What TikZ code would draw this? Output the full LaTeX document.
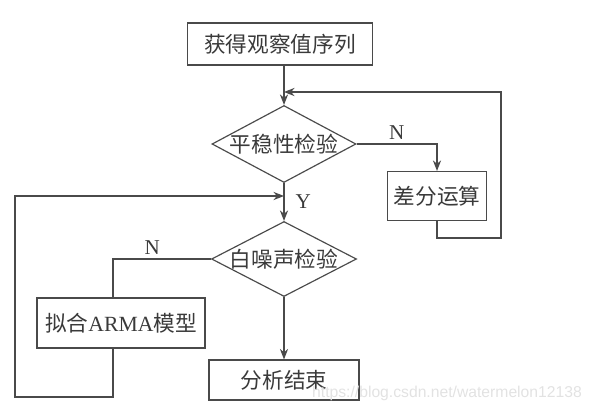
\documentclass[tikz,border=0pt]{standalone}
\usepackage{fontspec}
\usepackage{tikz}
\usetikzlibrary{shapes.geometric,arrows.meta}
\newfontfamily\cjk{Noto Sans CJK SC}
\newfontfamily\latin{Liberation Serif}
\newfontfamily\wmfont{Liberation Sans}
\definecolor{linegray}{HTML}{4A4A4A}
\definecolor{textgray}{HTML}{3A3A3A}
\definecolor{markgray}{HTML}{E2E2E2}

\begin{document}
\begin{tikzpicture}[x=0.03cm, y=-0.03cm,
    box/.style={draw=linegray, line width=1pt, rectangle, inner sep=0, text=textgray, font=\cjk\fontsize{18.5}{20}\selectfont},
    decision/.style={draw=linegray, line width=1pt, diamond, inner sep=0, text=textgray, font=\cjk\fontsize{18.5}{20}\selectfont},
    arr/.style={draw=linegray, line width=1pt, -{Stealth[length=9pt,width=7pt]}},
    line/.style={draw=linegray, line width=1pt},
    yn/.style={text=textgray, font=\latin\fontsize{18}{20}\selectfont}]

    \useasboundingbox (0,0) rectangle (593,412);

    \node[box, minimum width=5.55cm, minimum height=1.26cm] (obs) at (280,44) {获得观察值序列};
    \node[decision, minimum width=4.32cm, minimum height=2.31cm] (stat) at (284,144) {\makebox[0pt]{平稳性检验}};
    \node[box, minimum width=2.97cm, minimum height=1.47cm] (diff) at (437,196) {差分运算};
    \node[decision, minimum width=4.35cm, minimum height=2.25cm] (white) at (284,259) {\makebox[0pt]{白噪声检验}};
    \node[box, minimum width=5.04cm, minimum height=1.5cm] (arma) at (121,323) {拟合{\latin ARMA}模型};
    \node[box, minimum width=4.5cm, minimum height=1.2cm] (fin) at (284,380) {分析结束};

    % corners of the two loops
    \coordinate (rtop) at (501,92);
    \coordinate (rbot) at (501,238);
    \coordinate (ltop) at (15,196);
    \coordinate (lbot) at (15,397);

    \draw[arr] (obs.south -| stat.north) -- (stat.north);
    \draw[arr] (stat.east) -| (diff.north) node[yn, pos=0.25, above] {N};
    \draw[arr] (diff.south) |- (rbot) -- (rtop) -- (stat.north |- rtop);
    \draw[arr] (stat.south) -- (white.north) node[yn, midway, right=6pt] {Y};
    \draw[line] (white.west) -| ([xshift=-0.24cm]arma.north) node[yn, pos=0.3, above] {N};
    \draw[arr] ([xshift=-0.24cm]arma.south) |- (lbot) -- (ltop) -- (stat.south |- ltop);
    \draw[arr] (white.south) -- (fin.north);

    %watermark
    \node[text=markgray, font=\wmfont\fontsize{13.4}{15}\selectfont] (mark) at (447,393) {https://blog.csdn.net/watermelon12138};

\end{tikzpicture}
\end{document}
